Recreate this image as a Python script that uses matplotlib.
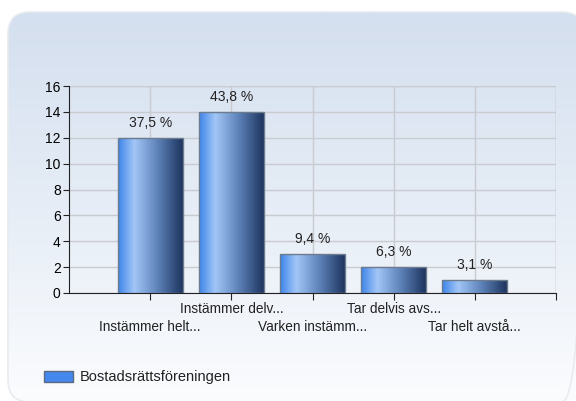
import numpy as np
import matplotlib
matplotlib.use("Agg")
import matplotlib.pyplot as plt
from matplotlib.colors import LinearSegmentedColormap
from matplotlib.patches import FancyBboxPatch, Rectangle

categories = ["Instämmer helt...", "Instämmer delv...", "Varken instämm...",
              "Tar delvis avs...", "Tar helt avstå..."]
counts = [12, 14, 3, 2, 1]
percent_labels = ["37,5 %", "43,8 %", "9,4 %", "6,3 %", "3,1 %"]
series_name = "Bostadsrättsföreningen"

plt.rcParams['font.family'] = ['Liberation Sans', 'DejaVu Sans']

fig = plt.figure(figsize=(5.76, 4.01), dpi=100)

# panel background with vertical gradient and rounded corners
bg = fig.add_axes([0, 0, 1, 1], zorder=-10)
bg.set_xlim(0, 576)
bg.set_ylim(401, 0)
bg.axis('off')
panel_cmap = LinearSegmentedColormap.from_list("panel", ["#d4dfef", "#e6edf6", "#fbfcfe"])
grad = np.linspace(0, 1, 256).reshape(-1, 1)
im = bg.imshow(grad, cmap=panel_cmap, extent=[8, 584, 401, 12], aspect='auto')
panel = FancyBboxPatch((8, 12), 576, 390, boxstyle="round,pad=0,rounding_size=22",
                       facecolor='none', edgecolor='#e8ebef', lw=1.2)
bg.add_patch(panel)
im.set_clip_path(panel)

# main axes
ax = fig.add_axes([69 / 576, 1 - 293 / 401, (556 - 69) / 576, (293 - 86) / 401])
ax.patch.set_alpha(0)

bar_cmap = LinearSegmentedColormap.from_list(
    "bar", [(0, "#3d84ea"), (0.25, "#a2c6f6"), (0.6, "#5f84bb"), (1, "#1d345e")])
hgrad = np.linspace(0, 1, 256).reshape(1, -1)
width = 0.8
x = np.arange(1, len(categories) + 1)
for xi, h, lab in zip(x, counts, percent_labels):
    x0 = xi - width / 2
    img = ax.imshow(hgrad, cmap=bar_cmap, extent=[x0, x0 + width, 0, h],
                    aspect='auto', zorder=3)
    rect = Rectangle((x0, 0), width, h, facecolor='none', edgecolor='#6d7b8f',
                     lw=1, zorder=4)
    ax.add_patch(rect)
    img.set_clip_path(rect)
    ax.text(xi, h + 0.6, lab, ha='center', va='bottom', fontsize=10,
            color='#222222', zorder=5)

ax.set_xlim(0, 6)
ax.set_ylim(0, 16)

ax.set_yticks(range(0, 17, 2))
ax.set_xticks(range(1, 7))
ax.set_xticklabels([])
ax.grid(True, color='#c9cbd0', lw=1, zorder=0)
ax.set_axisbelow(True)
for s in ['top', 'right']:
    ax.spines[s].set_visible(False)
for s in ['left', 'bottom']:
    ax.spines[s].set_color('#222222')
ax.tick_params(axis='y', length=4, color='#222222', labelsize=10, pad=2)
ax.tick_params(axis='x', length=5, color='#222222', direction='out')
ax.axhline(16, color='#c9cbd0', lw=1, zorder=0)
ax.axvline(6, color='#c9cbd0', lw=1, zorder=0)

# staggered category labels
for i, (xi, c) in enumerate(zip(x, categories)):
    ypix = 327 if i % 2 == 0 else 309
    yval = (293 - ypix) / (293 - 86) * 16
    ax.text(xi, yval, c, ha='center', va='center', fontsize=9.8,
            color='#222222', clip_on=False)

# legend
bg.add_patch(Rectangle((44, 371), 29, 11, facecolor='#4488ee', edgecolor='#5a6a80', lw=1))
bg.text(80, 376.5, series_name, ha='left', va='center', fontsize=10.5, color='#222222')

fig.savefig("out.png", dpi=100)
